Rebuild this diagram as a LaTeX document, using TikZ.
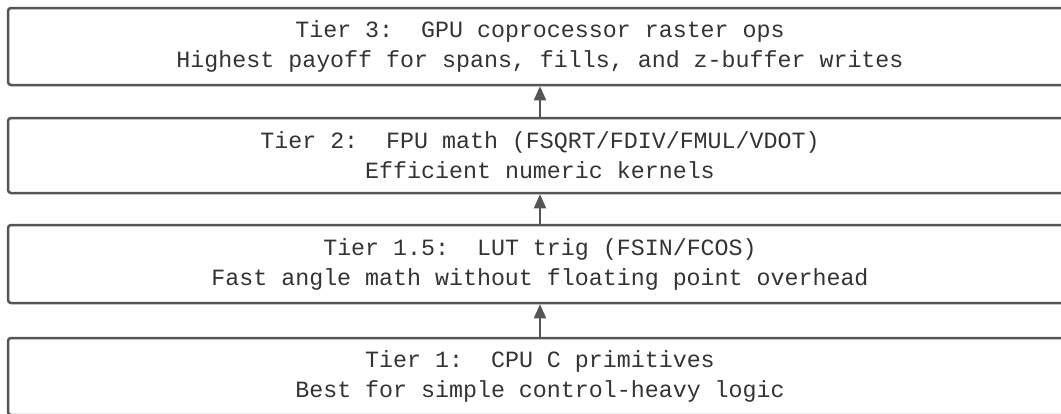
\documentclass[tikz,border=0pt]{standalone}
\usepackage{fontspec}
\setmonofont{Liberation Mono}
\usetikzlibrary{arrows.meta}
\definecolor{tierline}{HTML}{555555}
\definecolor{tiertext}{HTML}{333333}

\begin{document}
\begin{tikzpicture}[x=1pt, y=-1pt,
    tierbox/.style={rectangle, draw=tierline, line width=2.5pt, rounded corners=3pt,
      minimum width=1064pt, align=center, text=tiertext,
      font=\ttfamily\fontsize{23.3}{30}\selectfont\frenchspacing},
    tierarrow/.style={-{Triangle[length=14pt, width=12pt]}, draw=tierline, line width=2pt}]
  \useasboundingbox (0,0) rectangle (1061,413);

  % --- Tiers, top to bottom ---
  \node[tierbox, minimum height=77pt] (T3)  at (540, 46.5) {Tier 3:\ \ GPU coprocessor raster ops\\Highest payoff for spans, fills, and z-buffer writes};
  \node[tierbox, minimum height=75pt] (T2)  at (540, 155.5) {Tier 2:\ \ FPU math (FSQRT/FDIV/FMUL/VDOT)\\Efficient numeric kernels};
  \node[tierbox, minimum height=78pt] (T15) at (540, 264) {Tier 1.5:\ \ LUT trig (FSIN/FCOS)\\Fast angle math without floating point overhead};
  \node[tierbox, minimum height=77pt] (T1)  at (540, 376.5) {Tier 1:\ \ CPU C primitives\\Best for simple control-heavy logic};

  % --- Arrows, each tier feeds the next ---
  \draw[tierarrow] (T1) -- (T15);
  \draw[tierarrow] (T15) -- (T2);
  \draw[tierarrow] (T2) -- (T3);
\end{tikzpicture}
\end{document}
